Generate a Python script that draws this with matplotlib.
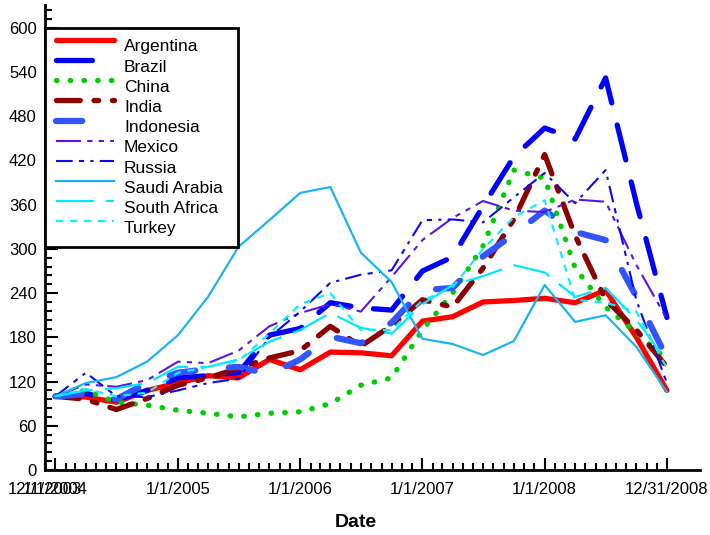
import pandas as pd
import matplotlib.pyplot as plt
import matplotlib.dates as mdates
from matplotlib.ticker import FixedLocator, MultipleLocator

plt.rcParams['font.family'] = ['Liberation Sans', 'DejaVu Sans']

# quarterly index values (base 100 = 1/1/2004)
dates = pd.to_datetime(['2004-01-01', '2004-04-01', '2004-07-01', '2004-10-01',
                        '2005-01-01', '2005-04-01', '2005-07-01', '2005-10-01',
                        '2006-01-01', '2006-04-01', '2006-07-01', '2006-10-01',
                        '2007-01-01', '2007-04-01', '2007-07-01', '2007-10-01',
                        '2008-01-01', '2008-04-01', '2008-07-01', '2008-10-01',
                        '2008-12-31'])

argentina = [100, 99, 92, 108, 118, 128, 125, 150, 136, 160, 159, 155, 202, 208, 228, 230, 233, 227, 244, 180, 108]
brazil = [100, 104, 95, 108, 125, 128, 132, 183, 192, 227, 220, 217, 270, 289, 358, 425, 464, 449, 532, 362, 207]
china = [100, 108, 92, 88, 81, 77, 72, 77, 79, 90, 115, 125, 190, 240, 304, 407, 396, 274, 221, 186, 150]
india = [100, 96, 82, 97, 115, 125, 138, 152, 162, 195, 168, 196, 231, 221, 274, 340, 428, 318, 231, 190, 140]
indonesia = [100, 103, 96, 118, 132, 137, 140, 130, 150, 181, 172, 200, 244, 247, 290, 320, 352, 323, 312, 235, 152]
mexico = [100, 116, 113, 122, 147, 145, 162, 195, 213, 225, 215, 262, 312, 342, 365, 352, 350, 367, 364, 278, 205]
russia = [100, 132, 100, 99, 108, 118, 124, 180, 215, 254, 265, 271, 339, 340, 336, 370, 403, 362, 407, 230, 118]
saudi = [100, 118, 126, 147, 183, 235, 303, 339, 376, 384, 295, 255, 178, 171, 156, 175, 251, 201, 210, 167, 106]
south_africa = [100, 108, 111, 118, 140, 140, 150, 174, 190, 213, 193, 185, 225, 251, 263, 278, 268, 235, 247, 204, 147]
turkey = [100, 110, 100, 105, 132, 140, 148, 185, 225, 240, 190, 190, 230, 248, 300, 343, 366, 231, 227, 215, 138]

tick_dates = pd.to_datetime(['2003-12-01', '2004-01-01', '2005-01-01', '2006-01-01',
                             '2007-01-01', '2008-01-01', '2008-12-31'])
tick_labels = ['12/1/2003', '1/1/2004', '1/1/2005', '1/1/2006', '1/1/2007', '1/1/2008', '12/31/2008']

fig = plt.figure(figsize=(7.1, 5.35), dpi=100)
ax = fig.add_axes([0.0634, 0.1215, 0.9226, 0.8692])

ax.plot(dates, argentina, color='#ff0000', lw=3.8, label='Argentina', solid_capstyle='round')
ax.plot(dates, brazil, color='#0000ff', lw=3.8, ls=(0, (6.8, 4.3)), dash_capstyle='round', label='Brazil')
ax.plot(dates, china, color='#00cc00', lw=3.8, ls=(0, (0.1, 2.5)), dash_capstyle='round', label='China')
ax.plot(dates, india, color='#8b0000', lw=3.8, ls=(0, (4.5, 2.6, 0.9, 2.6)), dash_capstyle='round', label='India')
ax.plot(dates, indonesia, color='#3355ff', lw=4.5, ls=(0, (4.2, 5.4)), dash_capstyle='round', label='Indonesia')
ax.plot(dates, mexico, color='#5a14e6', lw=1.5, ls=(0, (12, 3, 2.5, 3, 2.5, 3)), label='Mexico')
ax.plot(dates, russia, color='#0a0af0', lw=1.5, ls=(0, (8, 3, 2.5, 3, 1.5, 3)), label='Russia')
ax.plot(dates, saudi, color='#1ab4f0', lw=1.6, label='Saudi Arabia')
ax.plot(dates, south_africa, color='#00e8ff', lw=1.6, ls=(0, (17, 5.5)), label='South Africa')
ax.plot(dates, turkey, color='#11eeff', lw=1.6, ls=(0, (3.3, 3)), label='Turkey')

ax.set_xlim(pd.Timestamp('2003-12-01'), pd.Timestamp('2009-04-09'))
ax.set_ylim(0, 631)

ax.xaxis.set_major_locator(FixedLocator(mdates.date2num(tick_dates)))
ax.set_xticklabels(tick_labels)
minor = pd.date_range('2004-02-01', '2008-12-01', freq='MS')
ax.xaxis.set_minor_locator(FixedLocator(mdates.date2num(minor)))
ax.yaxis.set_major_locator(MultipleLocator(60))
ax.yaxis.set_minor_locator(MultipleLocator(12))

ax.tick_params(which='both', direction='in', width=1.5, labelsize=12)
ax.tick_params(which='major', length=9)
ax.tick_params(which='minor', length=5)
ax.tick_params(axis='x', pad=9)
ax.tick_params(axis='y', pad=6)

for s in ['top', 'right']:
    ax.spines[s].set_visible(False)
for s in ['left', 'bottom']:
    ax.spines[s].set_linewidth(2)

ax.set_xlabel('Date', fontsize=14, fontweight='bold')
ax.xaxis.set_label_coords(0.475, -0.094)

leg = ax.legend(loc='upper left', bbox_to_anchor=(0, 0, 0.2947, 0.9505), mode='expand',
                borderaxespad=0, fontsize=12.5, frameon=True, fancybox=False,
                framealpha=1, edgecolor='black', handlelength=3.3, handletextpad=0.6,
                labelspacing=0.29, borderpad=0.65)
leg.get_frame().set_linewidth(2)
# handles sit a little above their labels, as in the original
for h in leg.legend_handles:
    h.set_ydata([y + 4 for y in h.get_ydata()])

plt.savefig('out.png', dpi=100)
